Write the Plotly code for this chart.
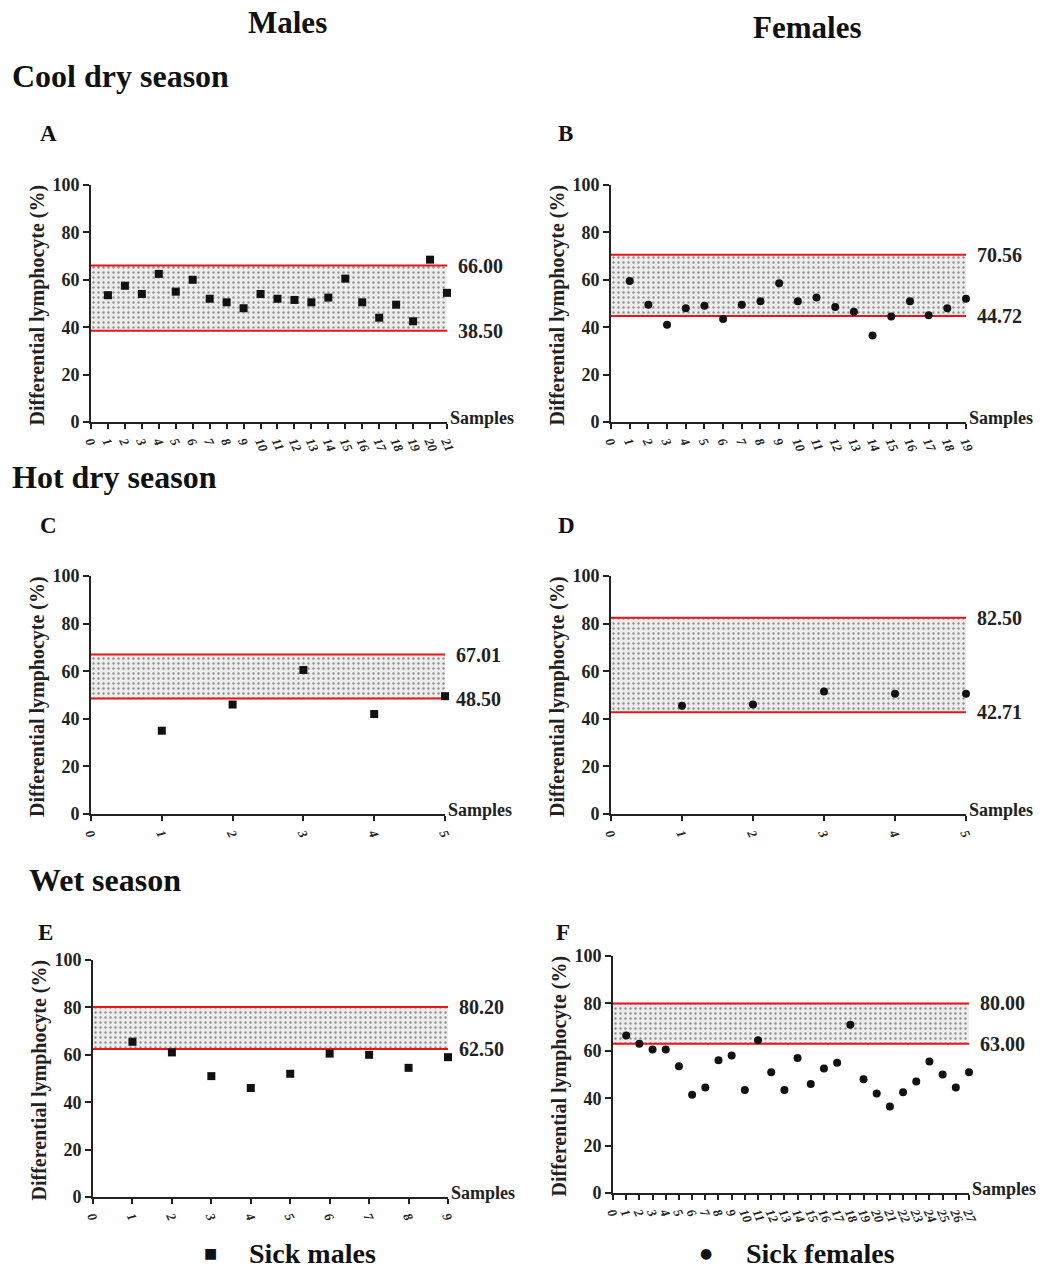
import plotly.graph_objects as go

# ---------------- data ----------------
a_vals = [53.5, 57.5, 54, 62.5, 55, 60, 52, 50.5, 48, 54, 52, 51.5, 50.5, 52.5, 60.5, 50.5, 44, 49.5, 42.5, 68.5, 54.5]
b_vals = [59.5, 49.5, 41, 48, 49, 43.5, 49.5, 51, 58.5, 51, 52.5, 48.5, 46.5, 36.5, 44.5, 51, 45, 48, 52]
c_vals = [35, 46, 60.5, 42, 49.5]
d_vals = [45.5, 46, 51.5, 50.5, 50.5]
e_vals = [65.5, 61, 51, 46, 52, 60.5, 60, 54.5, 59]
f_vals = [66.5, 63, 60.5, 60.5, 53.5, 41.5, 44.5, 56, 58, 43.5, 64.5, 51, 43.5, 57, 46,
          52.5, 55, 71, 48, 42, 36.5, 42.5, 47, 55.5, 50, 44.5, 51]

a_band = [38.50, 66.00]
b_band = [44.72, 70.56]
c_band = [48.50, 67.01]
d_band = [42.71, 82.50]
e_band = [62.50, 80.20]
f_band = [63.00, 80.00]

panel_letters = ["A", "B", "C", "D", "E", "F"]
y_ticks = [0, 20, 40, 60, 80, 100]
y_title = "Differential lymphocyte (%)"
x_label = "Samples"
col_titles = ["Males", "Females"]
row_titles = ["Cool dry season", "Hot dry season", "Wet season"]
legend_labels = ["Sick males", "Sick females"]

# ---------------- layout geometry (pixels) ----------------
W, H = 1046, 1269
FONT = "Liberation Serif"

panels = [
    # values, band, marker, px x0, x1, y_top, y_bottom, letter pos
    (a_vals, a_band, "square", 91, 447, 185, 422, (38, 133)),
    (b_vals, b_band, "circle", 611, 966, 185, 422, (556, 133)),
    (c_vals, c_band, "square", 91, 445, 576, 814, (38, 525)),
    (d_vals, d_band, "circle", 611, 966, 576, 814, (556, 525)),
    (e_vals, e_band, "square", 93, 448, 960, 1197, (36, 933)),
    (f_vals, f_band, "circle", 613, 969, 956, 1193, (554, 933)),
]

fig = go.Figure()
annotations = []

def px2x(px):
    return px / W

def px2y(py):
    return 1 - py / H

for i, (vals, band, sym, x0, x1, yt, yb, lpos) in enumerate(panels):
    n = len(vals)
    xs = list(range(1, n + 1))
    ax = "" if i == 0 else str(i + 1)
    xref = "x" + ax
    yref = "y" + ax
    lo, hi = band
    # shaded band
    fig.add_trace(go.Scatter(
        x=[0, n, n, 0, 0], y=[lo, lo, hi, hi, lo], xaxis=xref, yaxis=yref,
        mode="lines", line=dict(width=0), fill="toself",
        fillcolor="#ededed",
        fillpattern=dict(shape=".", fgcolor="#333333", bgcolor="#ededed", size=5, solidity=0.18),
        showlegend=False, hoverinfo="skip"))
    # red limit lines
    for v in band:
        fig.add_trace(go.Scatter(
            x=[0, n], y=[v, v], xaxis=xref, yaxis=yref, mode="lines",
            line=dict(color="#e8141c", width=2), showlegend=False, hoverinfo="skip"))
    # points
    fig.add_trace(go.Scatter(
        x=xs, y=vals, xaxis=xref, yaxis=yref, mode="markers",
        marker=dict(symbol=sym, size=8, color="#111111"),
        cliponaxis=False, showlegend=False))

    dom_x = [px2x(x0), px2x(x1)]
    dom_y = [px2y(yb), px2y(yt)]
    fig.update_layout(**{
        "xaxis" + ax: dict(
            domain=dom_x, anchor=yref, range=[0, n], tickmode="array",
            tickvals=list(range(0, n + 1)), ticktext=[str(k) for k in range(0, n + 1)],
            tickangle=65, ticks="outside", ticklen=5, tickwidth=2, tickcolor="#222",
            showline=True, linecolor="#222", linewidth=2, showgrid=False, zeroline=False,
            automargin=False,
            tickfont=dict(family=FONT, size=13, color="#222", weight="bold", style="italic")),
        "yaxis" + ax: dict(
            domain=dom_y, anchor=xref, range=[0, 100], tickvals=y_ticks,
            ticks="outside", ticklen=6, tickwidth=2, tickcolor="#222",
            showline=True, linecolor="#222", linewidth=2, showgrid=False, zeroline=False,
            automargin=False,
            tickfont=dict(family=FONT, size=18, color="#222", weight="bold")),
    })
    # band value labels
    for v in band:
        annotations.append(dict(
            x=1, y=v, xref=xref + " domain", yref=yref, xanchor="left", yanchor="middle",
            xshift=9, text=f"{v:.2f}", showarrow=False,
            font=dict(family=FONT, size=20, color="#222", weight="bold")))
    # Samples label
    annotations.append(dict(
        x=1, y=0, xref=xref + " domain", yref=yref, xanchor="left", yanchor="bottom",
        xshift=1, yshift=-8, text=x_label, showarrow=False,
        font=dict(family=FONT, size=18, color="#222", weight="bold")))
    # y axis title
    annotations.append(dict(
        x=px2x(x0 - 54), y=px2y((yt + yb) / 2 + 2), xref="paper", yref="paper",
        xanchor="center", yanchor="middle", textangle=-90, text=y_title, showarrow=False,
        font=dict(family=FONT, size=20, color="#222", weight="bold")))
    # panel letter
    annotations.append(dict(
        x=px2x(lpos[0]), y=px2y(lpos[1]), xref="paper", yref="paper",
        xanchor="left", yanchor="middle", text=panel_letters[i], showarrow=False,
        font=dict(family=FONT, size=23, color="#111", weight="bold")))

# column titles
for t, cx, cy in zip(col_titles, [287, 807], [22, 27]):
    annotations.append(dict(x=px2x(cx), y=px2y(cy), xref="paper", yref="paper",
                            xanchor="center", yanchor="middle", text=t, showarrow=False,
                            font=dict(family=FONT, size=31, color="#111", weight="bold")))
# row titles
for t, lx, cy in zip(row_titles, [10, 10, 27], [76, 477, 880]):
    annotations.append(dict(x=px2x(lx), y=px2y(cy), xref="paper", yref="paper",
                            xanchor="left", yanchor="middle", text=t, showarrow=False,
                            font=dict(family=FONT, size=32, color="#111", weight="bold")))
# legend
for sym_txt, lab, mx, tx in zip(["■", "●"], legend_labels, [210, 706], [247, 744]):
    annotations.append(dict(x=px2x(mx), y=px2y(1253), xref="paper", yref="paper",
                            xanchor="center", yanchor="middle", text=sym_txt, showarrow=False,
                            font=dict(family="DejaVu Sans", size=14, color="#111")))
    annotations.append(dict(x=px2x(tx), y=px2y(1253), xref="paper", yref="paper",
                            xanchor="left", yanchor="middle", text=lab, showarrow=False,
                            font=dict(family=FONT, size=28, color="#111", weight="bold")))

fig.update_layout(
    width=W, height=H, margin=dict(l=0, r=0, t=0, b=0, autoexpand=False),
    paper_bgcolor="white", plot_bgcolor="white",
    annotations=annotations, showlegend=False,
)

fig.write_html("out.html", config={"displayModeBar": False},
               post_script="document.body.style.margin='0';document.body.style.overflow='hidden';")
